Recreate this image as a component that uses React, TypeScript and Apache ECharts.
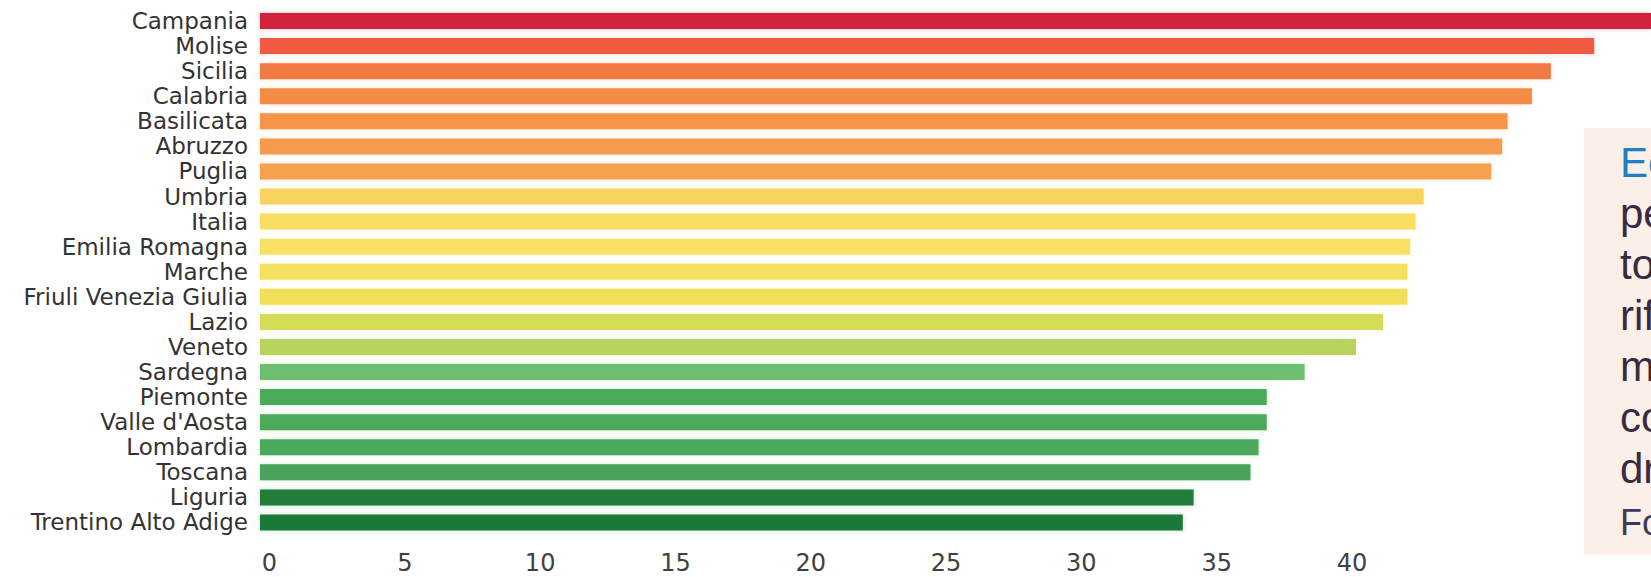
import React, { useEffect, useRef } from "react";
import * as echarts from "echarts";

const regions = [
  "Campania", "Molise", "Sicilia", "Calabria", "Basilicata", "Abruzzo", "Puglia",
  "Umbria", "Italia", "Emilia Romagna", "Marche", "Friuli Venezia Giulia", "Lazio",
  "Veneto", "Sardegna", "Piemonte", "Valle d'Aosta", "Lombardia", "Toscana",
  "Liguria", "Trentino Alto Adige",
];

const values = [
  52.0, 49.3, 47.7, 47.0, 46.1, 45.9, 45.5,
  43.0, 42.7, 42.5, 42.4, 42.4, 41.5,
  40.5, 38.6, 37.2, 37.2, 36.9, 36.6,
  34.5, 34.1,
];

const barColors = [
  "#d2223a", "#f05a41", "#f07a43", "#f48b46", "#f6944a", "#f69b4c", "#f5a14f",
  "#f8d45e", "#f8de64", "#f8e064", "#f5e05f", "#f1df5a", "#d5dc5a",
  "#b9d35f", "#6cbf6e", "#4bab5a", "#4bab5a", "#4ba95b", "#4aa35a",
  "#207d3b", "#1f7a39",
];

const tickLabels = ["0", "5", "10", "15", "20", "25", "30", "35", "40"];

const noteLines = ["Ec", "pe", "to", "rif", "m", "co", "dr", "Fo"];
const noteColors = ["#1f7fbf", "#3a2a40", "#3a2a40", "#3a2a40", "#3a2a40", "#3a2a40", "#3a2a40", "#3d3a5a"];

export default function App() {
  const ref = useRef<HTMLDivElement>(null);

  useEffect(() => {
    if (!ref.current) return;
    const chart = echarts.init(ref.current, null, { renderer: "svg" });

    const noteGraphics: any[] = [
      {
        type: "rect",
        left: 1584,
        top: 128,
        shape: { width: 80, height: 427 },
        style: { fill: "#fcefe7" },
        z: 10,
      },
    ];
    noteLines.forEach((t, i) => {
      noteGraphics.push({
        type: "text",
        x: 1620,
        y: 183 + i * 51,
        style: {
          text: t,
          fill: noteColors[i],
          font: `${i === 7 ? 36 : 42}px "Liberation Sans Narrow", "Liberation Sans", sans-serif`,
          textVerticalAlign: "bottom",
        },
        z: 11,
      });
    });

    chart.setOption({
      animation: false,
      backgroundColor: "#ffffff",
      grid: { left: 260, right: 0, top: 8.5, bottom: 42, containLabel: false },
      xAxis: {
        type: "value",
        min: 0,
        max: 51.4,
        interval: 5,
        axisLine: { show: false },
        axisTick: { show: false },
        splitLine: { show: false },
        axisLabel: {
          margin: 16,
          fontSize: 24,
          fontFamily: "DejaVu Sans",
          color: "#404040",
          padding: [0, 0, 0, 19],
          showMaxLabel: false,
          formatter: (v: number) => {
            const s = String(Math.round(v));
            return tickLabels.includes(s) && v <= 40 ? s : "";
          },
        },
      },
      yAxis: {
        type: "category",
        data: regions,
        inverse: true,
        axisLine: { show: false },
        axisTick: { show: false },
        splitLine: { show: false },
        axisLabel: {
          interval: 0,
          margin: 12,
          fontSize: 23,
          fontFamily: "DejaVu Sans",
          color: "#333333",
        },
      },
      series: [
        {
          type: "bar",
          clip: true,
          barWidth: 16,
          data: values.map((v, i) => ({
            value: v,
            itemStyle: {
              color: barColors[i],
              shadowColor: barColors[i] + "40",
              shadowBlur: 5,
            },
          })),
        },
      ],
      graphic: noteGraphics,
    });

    return () => chart.dispose();
  }, []);

  return (
    <div
      ref={ref}
      style={{ position: "absolute", left: 0, top: 0, width: 1651, height: 577 }}
    />
  );
}
